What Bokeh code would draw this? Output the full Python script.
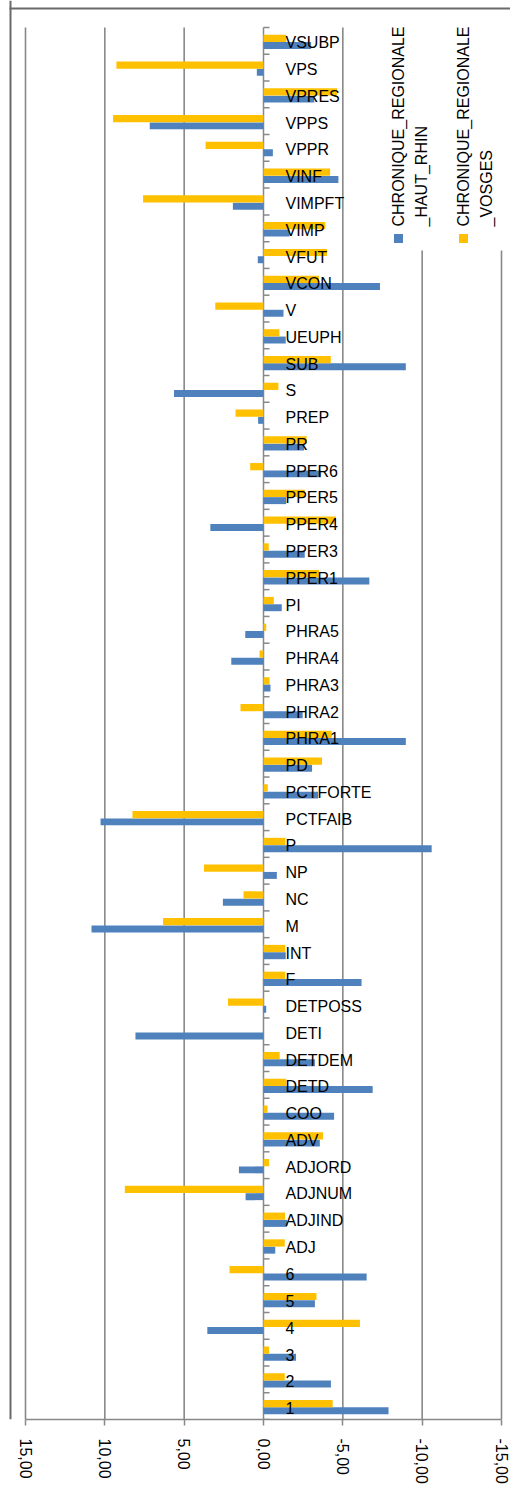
import math
from bokeh.plotting import figure
from bokeh.models import Range1d, FixedTicker, CustomJSTickFormatter, Label, ColumnDataSource
from bokeh.core.properties import value
from bokeh.embed import file_html
from bokeh.resources import INLINE

# ---------------- data (top to bottom) ----------------
categories = ["VSUBP", "VPS", "VPRES", "VPPS", "VPPR", "VINF", "VIMPFT", "VIMP", "VFUT", "VCON",
              "V", "UEUPH", "SUB", "S", "PREP", "PR", "PPER6", "PPER5", "PPER4", "PPER3",
              "PPER1", "PI", "PHRA5", "PHRA4", "PHRA3", "PHRA2", "PHRA1", "PD", "PCTFORTE", "PCTFAIB",
              "P", "NP", "NC", "M", "INT", "F", "DETPOSS", "DETI", "DETDEM", "DETD",
              "COO", "ADV", "ADJORD", "ADJNUM", "ADJIND", "ADJ", "6", "5", "4", "3", "2", "1"]
haut_rhin = [-3.0, 0.42, -3.2, 7.17, -0.59, -4.72, 1.93, -1.64, 0.36, -7.34,
             -1.26, -1.4, -8.97, 5.64, 0.34, -2.56, -3.63, -1.43, 3.35, -2.6,
             -6.67, -1.15, 1.15, 2.03, -0.44, -2.47, -8.97, -3.06, -3.44, 10.27,
             -10.6, -0.84, 2.56, 10.84, -1.4, -6.18, -0.17, 8.07, -3.24, -6.88,
             -4.45, -3.55, 1.55, 1.13, -1.48, -0.74, -6.5, -3.24, 3.54, -2.05, -4.25, -7.88]
vosges = [-1.43, 9.27, -4.63, 9.48, 3.65, -4.2, 7.59, -3.9, -4.0, -3.5,
          3.04, -1.0, -4.24, -0.94, 1.76, -2.72, 0.84, -2.6, -4.57, -0.33,
          -3.5, -0.65, -0.17, 0.25, -0.38, 1.45, -4.3, -3.69, -0.27, 8.26,
          -1.38, 3.75, 1.26, 6.33, -1.37, -1.37, 2.24, 0.0, -1.02, -1.43,
          -0.25, -3.75, -0.35, 8.74, -1.36, -1.34, 2.14, -3.34, -6.08, -0.35, -1.34, -4.36]
x_ticks = [15, 10, 5, 0, -5, -10, -15]
series_names = ["CHRONIQUE_REGIONALE_HAUT_RHIN", "CHRONIQUE_REGIONALE_VOSGES"]
series_colors = ["#4F81BD", "#FFC000"]

# ---------------- layout ----------------
W, H = 510, 1490
BOTTOM = 71
FR_L, FR_R, FR_T = 25, 501, 27          # pixel positions of x=15, x=-15, top category edge
n = len(categories)
x_max, x_min = max(x_ticks), min(x_ticks)
sx = (FR_R - FR_L) / (x_max - x_min)     # px per unit (x)
sy = (H - BOTTOM - FR_T) / n             # px per category
x_start = x_max + FR_L / sx
x_end = x_min - (W - FR_R) / sx
y_end = n + FR_T / sy


def px_to_x(px):      # page pixel -> data x
    return x_start - px / sx


def py_to_y(py):      # page pixel -> data y
    return y_end - py / sy


FONT = "Liberation Sans"
GRID = "#888888"

p = figure(width=W, height=H, x_range=Range1d(x_start, x_end), y_range=Range1d(0, y_end),
           output_backend="svg", toolbar_location=None, y_axis_type=None,
           min_border_left=0, min_border_right=0, min_border_top=0, min_border_bottom=BOTTOM)
p.outline_line_color = None
p.xgrid.visible = False
p.background_fill_color = "white"

ax = p.xaxis[0]
ax.ticker = FixedTicker(ticks=x_ticks)
ax.bounds = (x_min, x_max)
ax.formatter = CustomJSTickFormatter(code="return tick.toFixed(2).replace('.', ',');")
ax.major_label_orientation = "vertical"
ax.axis_line_color = GRID
ax.axis_line_width = 1.5
ax.major_tick_line_color = GRID
ax.major_tick_line_width = 1.5
ax.major_tick_out = 6
ax.major_tick_in = 0
ax.minor_tick_line_color = None
ax.major_label_standoff = 13
ax.major_label_text_font = FONT
ax.major_label_text_font_size = "16px"
ax.major_label_text_color = "#000000"

# gridlines
grid_x = [t for t in x_ticks if t != 0]
p.segment(x0=grid_x, y0=[0] * len(grid_x), x1=grid_x, y1=[n] * len(grid_x),
          line_color=GRID, line_width=1.6)

# legend background (hides gridlines behind the legend)
p.quad(left=[px_to_x(380)], right=[x_end], bottom=[py_to_y(250)], top=[y_end],
       fill_color="white", line_color=None)

# category axis at 0
bounds = list(range(0, n + 1))
p.segment(x0=[0], y0=[0], x1=[0], y1=[n], line_color=GRID, line_width=1.5)
p.segment(x0=[0] * len(bounds), y0=bounds, x1=[-6 / sx] * len(bounds), y1=bounds,
          line_color=GRID, line_width=1.5)

# bars
yc = [n - 0.5 - i for i in range(n)]
src = ColumnDataSource(dict(cat=categories, yc=yc,
                            y_hr=[y - 0.175 for y in yc], y_vo=[y + 0.095 for y in yc],
                            hr=haut_rhin, vo=vosges))
p.hbar(y="y_hr", left=0, right="hr", height=0.26, fill_color=series_colors[0],
       line_color=None, source=src)
p.hbar(y="y_vo", left=0, right="vo", height=0.27, fill_color=series_colors[1],
       line_color=None, source=src)

# category labels
p.text(x=0, y="yc", text="cat", x_offset=22, y_offset=2, source=src,
       text_font=value(FONT), text_font_size="16px", text_baseline="middle",
       text_align="left", text_color="#000000")

# outer chart border (left and top)
p.segment(x0=[px_to_x(10)], y0=[0], x1=[px_to_x(10)], y1=[y_end],
          line_color="#6A6A6A", line_width=2)
p.segment(x0=[px_to_x(9)], y0=[py_to_y(8)], x1=[x_end], y1=[py_to_y(8)],
          line_color="#6A6A6A", line_width=2)

# legend (rotated)
for i, (name, col) in enumerate(zip(series_names, series_colors)):
    cx = 398 + 65 * i
    p.rect(x=[px_to_x(cx)], y=[py_to_y(238)], width=9, height=9,
           width_units="screen", height_units="screen", fill_color=col, line_color=None)
    first, second = name[:19], name[19:]
    for j, part in enumerate([first, second]):
        p.add_layout(Label(x=px_to_x(cx + 23 * j), y=py_to_y(226), text=part,
                           angle=math.pi / 2, text_align="left", text_baseline="middle",
                           text_font=FONT, text_font_size="16px", text_color="#000000"))

open("out.html", "w").write(file_html(p, INLINE))
